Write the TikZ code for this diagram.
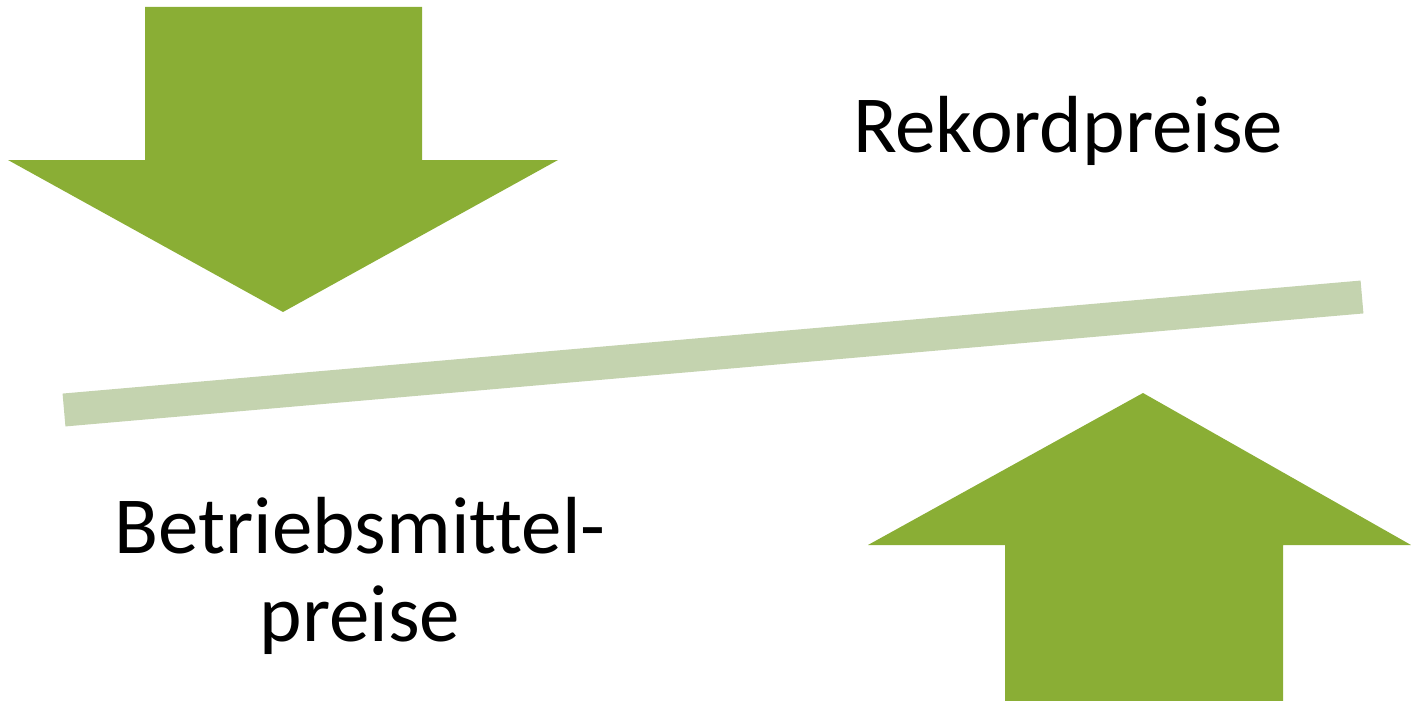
\documentclass[tikz,border=0pt]{standalone}
\usepackage{fontspec}
\setmainfont[Ligatures=CommonOff]{Carlito}
\definecolor{arrowgreen}{HTML}{8AAE35}
\definecolor{bargreen}{HTML}{C4D3AF}

\begin{document}
\begin{tikzpicture}
  [x=1pt,y=-1pt,
   bigtext/.style={inner sep=0pt,font=\fontsize{81}{88}\selectfont,align=center}]
  \useasboundingbox (0,0) rectangle (1411,701);
  % arrow pointing down
  \fill[arrowgreen] (145,7) -- (422,7) -- (422,160) -- (558,160) -- (283,312)
    -- (8,160) -- (145,160) -- cycle;
  % arrow pointing up
  \fill[arrowgreen] (1005,701) -- (1283,701) -- (1283,545) -- (1411,545)
    -- (1143,393) -- (868,545) -- (1005,545) -- cycle;
  % the tilted bar
  \coordinate (barl) at (64,410);
  \coordinate (barr) at (1362,297);
  \draw[bargreen,line width=33pt] (barl) -- (barr);
  \node[bigtext,anchor=base] (rekord) at (1068,152) {Rekordpreise};
  \node[bigtext,anchor=base] (betrieb) at (360,641) {Betriebsmittel-\\preise};
\end{tikzpicture}
\end{document}
